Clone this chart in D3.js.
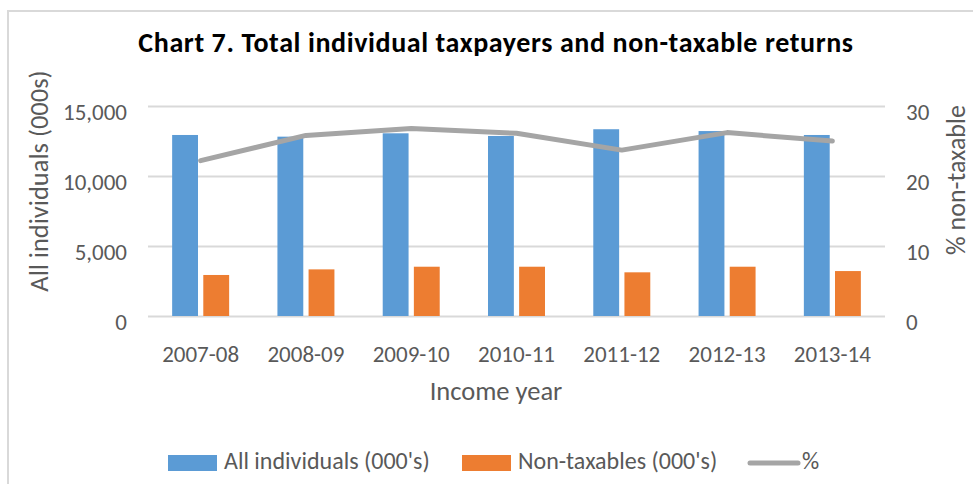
<!DOCTYPE html>
<html>
<head>
<meta charset="utf-8">
<script src="https://cdn.jsdelivr.net/npm/d3@7"></script>
<style>
  body { margin: 0; background: #fff; }
  text { font-family: Calibri, Carlito, 'Liberation Sans', Arial, sans-serif; fill: #595959; }
</style>
</head>
<body>
<div id="chart"></div>
<script>
// data
const years = ['2007-08', '2008-09', '2009-10', '2010-11', '2011-12', '2012-13', '2013-14']
const allIndividuals = [12930, 12810, 13050, 12860, 13340, 13210, 12930]
const nonTaxables = [2930, 3330, 3520, 3520, 3120, 3520, 3210]
const pctNonTaxable = [22.2, 25.8, 26.8, 26.1, 23.7, 26.2, 25.0]
const leftTicks = [0, 5000, 10000, 15000]
const rightTicks = [0, 10, 20, 30]
const seriesNames = ["All individuals (000's)", "Non-taxables (000's)", '%']

let width = 973,
  height = 484

let plot = { left: 148, right: 885, top: 106, bottom: 316 }
let colors = ['#5b9bd5', '#ed7d31', '#a5a5a5']

let svg = d3.select('#chart')
  .append('svg')
  .attr('width', width)
  .attr('height', height)

// chart area frame (only top + left edges visible)
svg.append('path')
  .attr('d', `M8,${height} V11 H${width}`)
  .attr('fill', 'none')
  .attr('stroke', '#d9d9d9')
  .attr('stroke-width', 2)

// scales
let x0 = d3.scaleBand()
  .domain(years)
  .range([plot.left, plot.right])

let x1 = d3.scaleBand()
  .domain([0, 1])
  .range([x0.bandwidth() / 2 - 28.5, x0.bandwidth() / 2 + 28.5])
  .paddingInner(0.17)

let y = d3.scaleLinear().domain([0, 15000]).range([plot.bottom, plot.top])
let y2 = d3.scaleLinear().domain([0, 30]).range([plot.bottom, plot.top])

// left axis + gridlines
let yAxis = svg.append('g')
  .attr('transform', `translate(${plot.left},0)`)
  .call(d3.axisLeft(y)
    .tickValues(leftTicks)
    .tickFormat(d3.format(','))
    .tickSize(-(plot.right - plot.left))
    .tickPadding(21))
yAxis.select('.domain').remove()
yAxis.selectAll('line').attr('stroke', '#d9d9d9').attr('stroke-width', 2)
yAxis.selectAll('text')
  .attr('dy', '0.57em')
  .style('font-size', '23px')
  .style('fill', '#595959')

// right axis
let y2Axis = svg.append('g')
  .attr('transform', `translate(${plot.right},0)`)
  .call(d3.axisRight(y2)
    .tickValues(rightTicks)
    .tickSize(0)
    .tickPadding(21))
y2Axis.select('.domain').remove()
y2Axis.selectAll('text')
  .attr('dy', '0.57em')
  .style('font-size', '23px')
  .style('fill', '#595959')

// bottom axis
let xAxis = svg.append('g')
  .attr('transform', `translate(0,${plot.bottom})`)
  .call(d3.axisBottom(x0).tickSize(0).tickPadding(29.5))
xAxis.select('.domain').remove()
xAxis.selectAll('text')
  .style('font-size', '23px')
  .style('fill', '#595959')

// bars
let groups = svg.append('g')
  .selectAll('g')
  .data(years)
  .enter().append('g')
  .attr('transform', d => `translate(${x0(d)},0)`)

groups.selectAll('rect')
  .data((d, i) => [allIndividuals[i], nonTaxables[i]])
  .enter().append('rect')
  .attr('x', (d, j) => x1(j))
  .attr('width', x1.bandwidth())
  .attr('y', d => y(d))
  .attr('height', d => y(0) - y(d))
  .attr('fill', (d, j) => colors[j])

// % line
let line = d3.line()
  .x((d, i) => x0(years[i]) + x0.bandwidth() / 2)
  .y(d => y2(d))

svg.append('path')
  .datum(pctNonTaxable)
  .attr('d', line)
  .attr('fill', 'none')
  .attr('stroke', colors[2])
  .attr('stroke-width', 5)
  .attr('stroke-linecap', 'round')
  .attr('stroke-linejoin', 'round')

// titles
svg.append('text')
  .attr('x', 496)
  .attr('y', 52)
  .attr('text-anchor', 'middle')
  .style('font-size', '28px')
  .style('font-weight', 'bold')
  .style('letter-spacing', '0.6px')
  .style('fill', '#000')
  .text('Chart 7. Total individual taxpayers and non-taxable returns')

svg.append('text')
  .attr('transform', 'translate(48,181) rotate(-90)')
  .attr('text-anchor', 'middle')
  .style('font-size', '26.5px')
  .text('All individuals (000s)')

svg.append('text')
  .attr('transform', 'translate(965,180) rotate(-90)')
  .attr('text-anchor', 'middle')
  .style('font-size', '26px')
  .text('% non-taxable')

svg.append('text')
  .attr('x', 496)
  .attr('y', 400)
  .attr('text-anchor', 'middle')
  .style('font-size', '26.5px')
  .text('Income year')

// legend
let legendX = [168, 462, 748]
let legend = svg.append('g')
  .selectAll('g')
  .data(seriesNames)
  .enter().append('g')
  .attr('transform', (d, i) => `translate(${legendX[i]},0)`)

legend.filter((d, i) => i < 2).append('rect')
  .attr('y', 455)
  .attr('width', 49)
  .attr('height', 16)
  .attr('fill', (d, i) => colors[i])

legend.filter((d, i) => i == 2).append('line')
  .attr('x1', 2).attr('x2', 50)
  .attr('y1', 463).attr('y2', 463)
  .attr('stroke', colors[2])
  .attr('stroke-width', 5)
  .attr('stroke-linecap', 'round')

legend.append('text')
  .attr('x', (d, i) => i < 2 ? 56 : 54)
  .attr('y', 469)
  .style('font-size', '24px')
  .text(d => d)
</script>
</body>
</html>
